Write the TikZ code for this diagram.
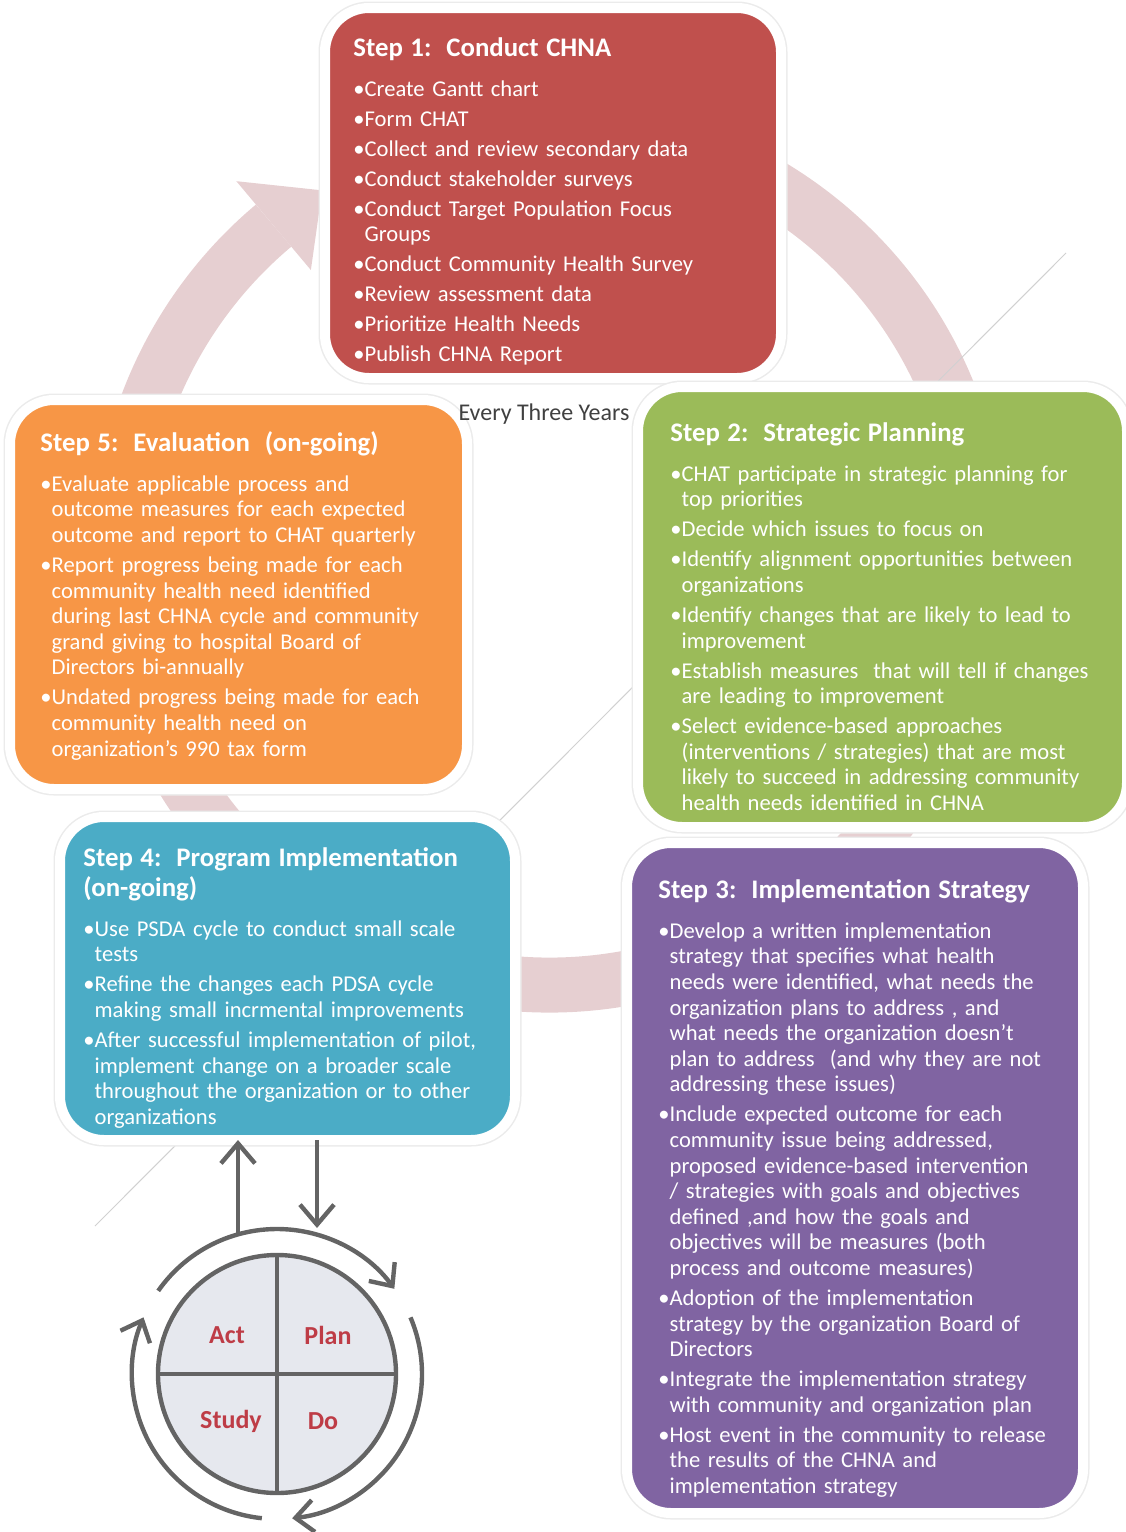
\documentclass[tikz,border=0pt]{standalone}
\usepackage{fontspec}
\setmainfont{Carlito}
\usetikzlibrary{arrows.meta, positioning, calc}

\definecolor{ringpink}{RGB}{230,207,209}
\definecolor{stepred}{RGB}{192,80,77}
\definecolor{stepgreen}{RGB}{155,187,89}
\definecolor{steppurple}{RGB}{128,100,162}
\definecolor{stepblue}{RGB}{75,172,198}
\definecolor{steporange}{RGB}{247,150,70}
\definecolor{pdsagray}{RGB}{100,100,100}
\definecolor{pdsafill}{RGB}{230,232,238}
\definecolor{pdsared}{RGB}{190,60,70}

\newcommand{\bitem}{\par\setbox0\hbox{\textbullet}\hangindent=\wd0\hangafter=1\noindent\textbullet}
\newcommand{\nl}{\newline}
\newcommand{\steptitle}[1]{{\noindent\bfseries\fontsize{13.4}{15}\selectfont #1\par}\vspace{5pt}}

\begin{document}
\begin{tikzpicture}[
    x=0.5pt, y=-0.5pt,
    stepbox/.style={rectangle, rounded corners=22pt, outer sep=0pt, draw=white, line width=5pt, preaction={draw=black!8, line width=6.5pt}},
    steptext/.style={anchor=north west, inner sep=0pt, text width=240pt, align=left, text=white, font=\fontsize{11.3}{12.8}\selectfont, execute at begin node={\setlength{\parskip}{2.2pt}\setlength{\parindent}{0pt}}},
    ring/.style={draw=ringpink, line width=27.5pt},
    pdsaline/.style={draw=pdsagray, line width=2.2pt},
    cyclearrow/.style={pdsaline, -{Straight Barb[length=9pt,width=16pt]}},
    pdsaarrow/.style={pdsaline, -{Straight Barb[length=10pt,width=17pt]}},
    pdsalabel/.style={text=pdsared, font=\bfseries\fontsize{13}{15}\selectfont},
]
    \useasboundingbox (0,0) rectangle (1125,1532);

    % background ring and stray line
    \coordinate (ringc) at (550,555);
    \draw[ring] (ringc) ++(-100:430) arc[start angle=-100, end angle=230, radius=430];
    \fill[ringpink] ($(ringc)+(230:372)$) -- ($(ringc)+(230:488)$) -- ($(ringc)+(238:430)$) -- cycle;
    \coordinate (diagA) at (95,1226);
    \coordinate (diagB) at (1066,253);
    \draw[black!18, line width=0.5pt] (diagA) -- (diagB);

    % step boxes
    \node (s1) [stepbox, fill=stepred, minimum width=228pt, minimum height=185pt] at (553,193) {};
    \node (s2) [stepbox, fill=stepgreen, minimum width=244.5pt, minimum height=220pt] at (882.5,607) {};
    \node (s3) [stepbox, fill=steppurple, minimum width=228pt, minimum height=335pt] at (855,1178) {};
    \node (s4) [stepbox, fill=stepblue, minimum width=227.5pt, minimum height=161.5pt] at (287.5,978.5) {};
    \node (s5) [stepbox, fill=steporange, minimum width=228.5pt, minimum height=194.5pt] at (238.5,594.5) {};

    \node (cycle) [font=\fontsize{12}{14}\selectfont, text=black!75] at (544,414) {Every Three Years};

    % step texts
    \node (s1text) [steptext, below right=14.5pt and 14pt of s1.north west] {%
      \steptitle{Step 1:\ \ Conduct CHNA}
      \bitem Create Gantt chart
      \bitem Form CHAT
      \bitem Collect and review secondary data
      \bitem Conduct stakeholder surveys
      \bitem Conduct Target Population Focus\nl Groups
      \bitem Conduct Community Health Survey
      \bitem Review assessment data
      \bitem Prioritize Health Needs
      \bitem Publish CHNA Report\par};

    \node (s2text) [steptext, below right=17.5pt and 16pt of s2.north west] {%
      \steptitle{Step 2:\ \ Strategic Planning}
      \bitem CHAT participate in strategic planning for\nl top priorities
      \bitem Decide which issues to focus on
      \bitem Identify alignment opportunities between\nl organizations
      \bitem Identify changes that are likely to lead to\nl improvement
      \bitem Establish measures\ \ that will tell if changes\nl are leading to improvement
      \bitem Select evidence-based approaches\nl (interventions / strategies) that are most\nl likely to succeed in addressing community\nl health needs identified in CHNA\par};

    \node (s3text) [steptext, below right=18pt and 15.5pt of s3.north west] {%
      \steptitle{Step 3:\ \ Implementation Strategy}
      \bitem Develop a written implementation\nl strategy that specifies what health\nl needs were identified, what needs the\nl organization plans to address , and\nl what needs the organization doesn't\nl plan to address\ \ (and why they are not\nl addressing these issues)
      \bitem Include expected outcome for each\nl community issue being addressed,\nl proposed evidence-based intervention\nl / strategies with goals and objectives\nl defined ,and how the goals and\nl objectives will be measures (both\nl process and outcome measures)
      \bitem Adoption of the implementation\nl strategy by the organization Board of\nl Directors
      \bitem Integrate the implementation strategy\nl with community and organization plan
      \bitem Host event in the community to release\nl the results of the CHNA and\nl implementation strategy\par};

    \node (s4text) [steptext, below right=15pt and 11.5pt of s4.north west] {%
      \steptitle{Step 4:\ \ Program Implementation\\(on-going)}
      \bitem Use PSDA cycle to conduct small scale\nl tests
      \bitem Refine the changes each PDSA cycle\nl making small incrmental improvements
      \bitem After successful implementation of pilot,\nl implement change on a broader scale\nl throughout the organization or to other\nl organizations\par};

    \node (s5text) [steptext, below right=15.5pt and 15pt of s5.north west] {%
      \steptitle{Step 5:\ \ Evaluation\ \ (on-going)}
      \bitem Evaluate applicable process and\nl outcome measures for each expected\nl outcome and report to CHAT quarterly
      \bitem Report progress being made for each\nl community health need identified\nl during last CHNA cycle and community\nl grand giving to hospital Board of\nl Directors bi-annually
      \bitem Undated progress being made for each\nl community health need on\nl organization’s 990 tax form\par};

    % PDSA cycle
    \node (pdsa) [circle, draw=pdsagray, fill=pdsafill, line width=2.2pt, minimum size=119pt, inner sep=0pt, outer sep=0pt] at (277,1374) {};
    \draw[pdsaline] (pdsa.north) -- (pdsa.south);
    \draw[pdsaline] (pdsa.west) -- (pdsa.east);
    \node (act) [pdsalabel] at ($(pdsa.center)+(-50,-39)$) {Act};
    \node (plan) [pdsalabel] at ($(pdsa.center)+(51,-39)$) {Plan};
    \node (study) [pdsalabel] at ($(pdsa.center)+(-46,47)$) {Study};
    \node (do) [pdsalabel] at ($(pdsa.center)+(46,47)$) {Do};

    \draw[cyclearrow] (pdsa.center) ++(-145:145) arc[start angle=-145, end angle=-36, radius=145];
    \draw[cyclearrow] (pdsa.center) ++(-23:145) arc[start angle=-23, end angle=84, radius=145];
    \draw[cyclearrow] (pdsa.center) ++(96:145) arc[start angle=96, end angle=203, radius=145];

    \coordinate (upfoot) at (238,1234);
    \coordinate (downhead) at (317,1228);
    \draw[pdsaarrow] (upfoot) -- (upfoot |- s4.south);
    \draw[pdsaarrow] (downhead |- s4.south) -- (downhead);

\end{tikzpicture}
\end{document}
